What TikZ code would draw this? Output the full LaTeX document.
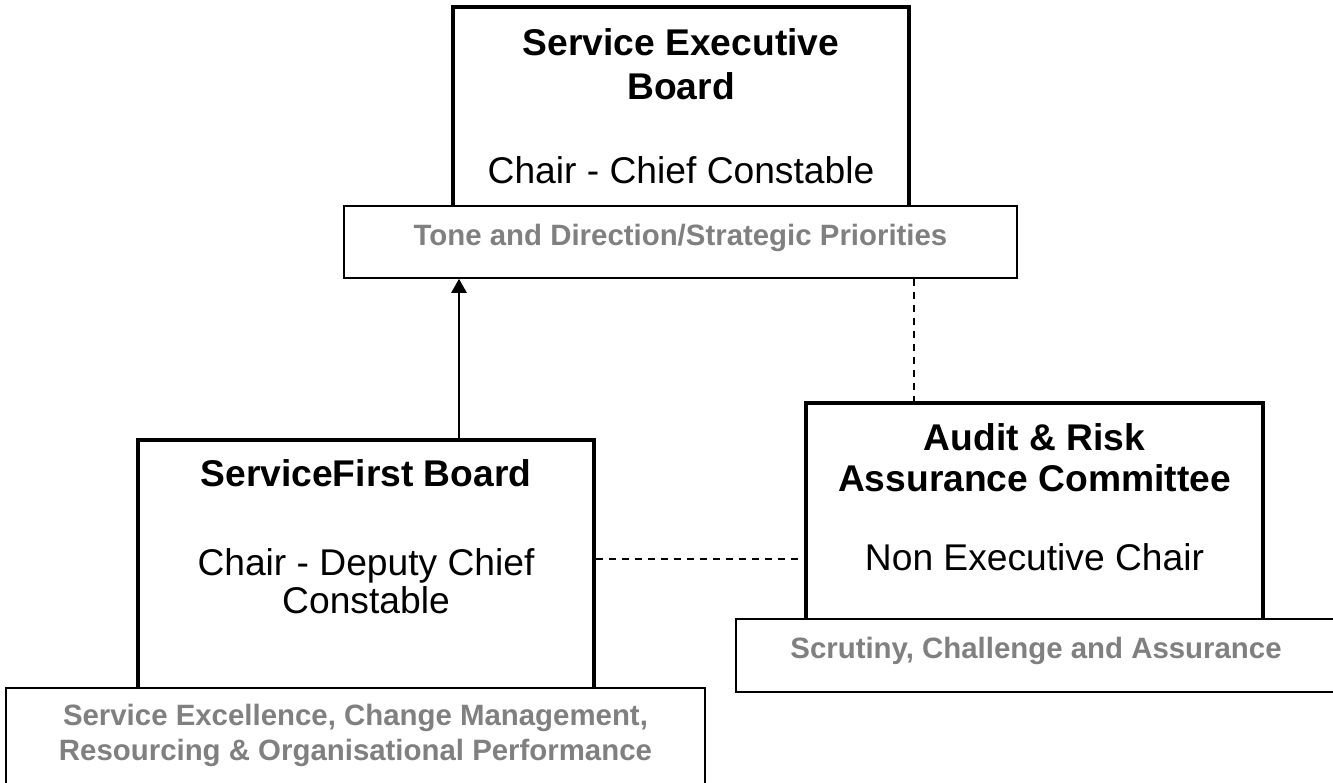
\documentclass[tikz,border=0pt]{standalone}
\usepackage{fontspec}
\setmainfont{Liberation Sans}
\usetikzlibrary{arrows.meta}
\definecolor{notegray}{RGB}{128,128,128}

\begin{document}
\begin{tikzpicture}[x=.5pt, y=-.5pt,
  board/.style={draw, line width=1.75pt, fill=white, inner sep=0},
  note/.style={draw, line width=.75pt, fill=white, inner sep=0},
  title/.style={anchor=base, font=\fontsize{18.6}{21}\selectfont\bfseries},
  chair/.style={anchor=base, font=\fontsize{18.6}{21}\selectfont},
  remit/.style={anchor=base, text=notegray, font=\fontsize{14.7}{17}\selectfont\bfseries},
  link/.style={line width=.75pt, dash pattern=on 3.5pt off 3pt}]
\useasboundingbox (0,0) rectangle (1333,782);
% service executive board
\node[board, minimum width=228pt, minimum height=116.5pt] (seb) at (681,123.5) {};
\node[note, minimum width=336.5pt, minimum height=36pt] (tone) at (680.5,242) {};
\node[title] (sebname) at (681,55) {Service Executive};
\node[title] (sebnameb) at (681,99) {Board};
\node[chair] (sebchair) at (681,183) {Chair - Chief Constable};
\node[remit] (toneremit) at (680.5,245) {Tone and Direction/Strategic Priorities};
% servicefirst board
\node[board, minimum width=228pt, minimum height=130pt] (sfb) at (366,570) {};
\node[note, minimum width=349.5pt, minimum height=66pt] (sfbnote) at (355.5,754) {};
\node[title] (sfbname) at (366,486) {ServiceFirst Board};
\node[chair] (sfbchair) at (366,575) {Chair - Deputy Chief};
\node[chair] (sfbchairb) at (366,613) {Constable};
\node[remit] (sfbremit) at (355.5,725) {Service Excellence, Change Management,};
\node[remit] (sfbremitb) at (355.5,760) {Resourcing \& Organisational Performance};
% audit and risk
\node[board, minimum width=228.5pt, minimum height=113.5pt] (arc) at (1034.5,516.5) {};
\node[note, minimum width=300pt, minimum height=36.5pt] (arcnote) at (1036,655.5) {};
\node[title] (arcname) at (1034.5,450) {Audit \& Risk};
\node[title] (arcnameb) at (1034.5,491) {Assurance Committee};
\node[chair] (arcchair) at (1034.5,570) {Non Executive Chair};
\node[remit] (arcremit) at (1036,658) {Scrutiny, Challenge and Assurance};
% links
\coordinate (up) at (459,0);
\coordinate (dn) at (914,0);
\coordinate (mid) at (0,559);
\draw[line width=1.2pt, ->, >={Triangle[length=7pt,width=7.5pt]}] (sfb.north -| up) -- (tone.south -| up);
\draw[link] (tone.south -| dn) -- (arc.north -| dn);
\draw[link] (sfb.east |- mid) -- (arc.west |- mid);
\end{tikzpicture}
\end{document}
